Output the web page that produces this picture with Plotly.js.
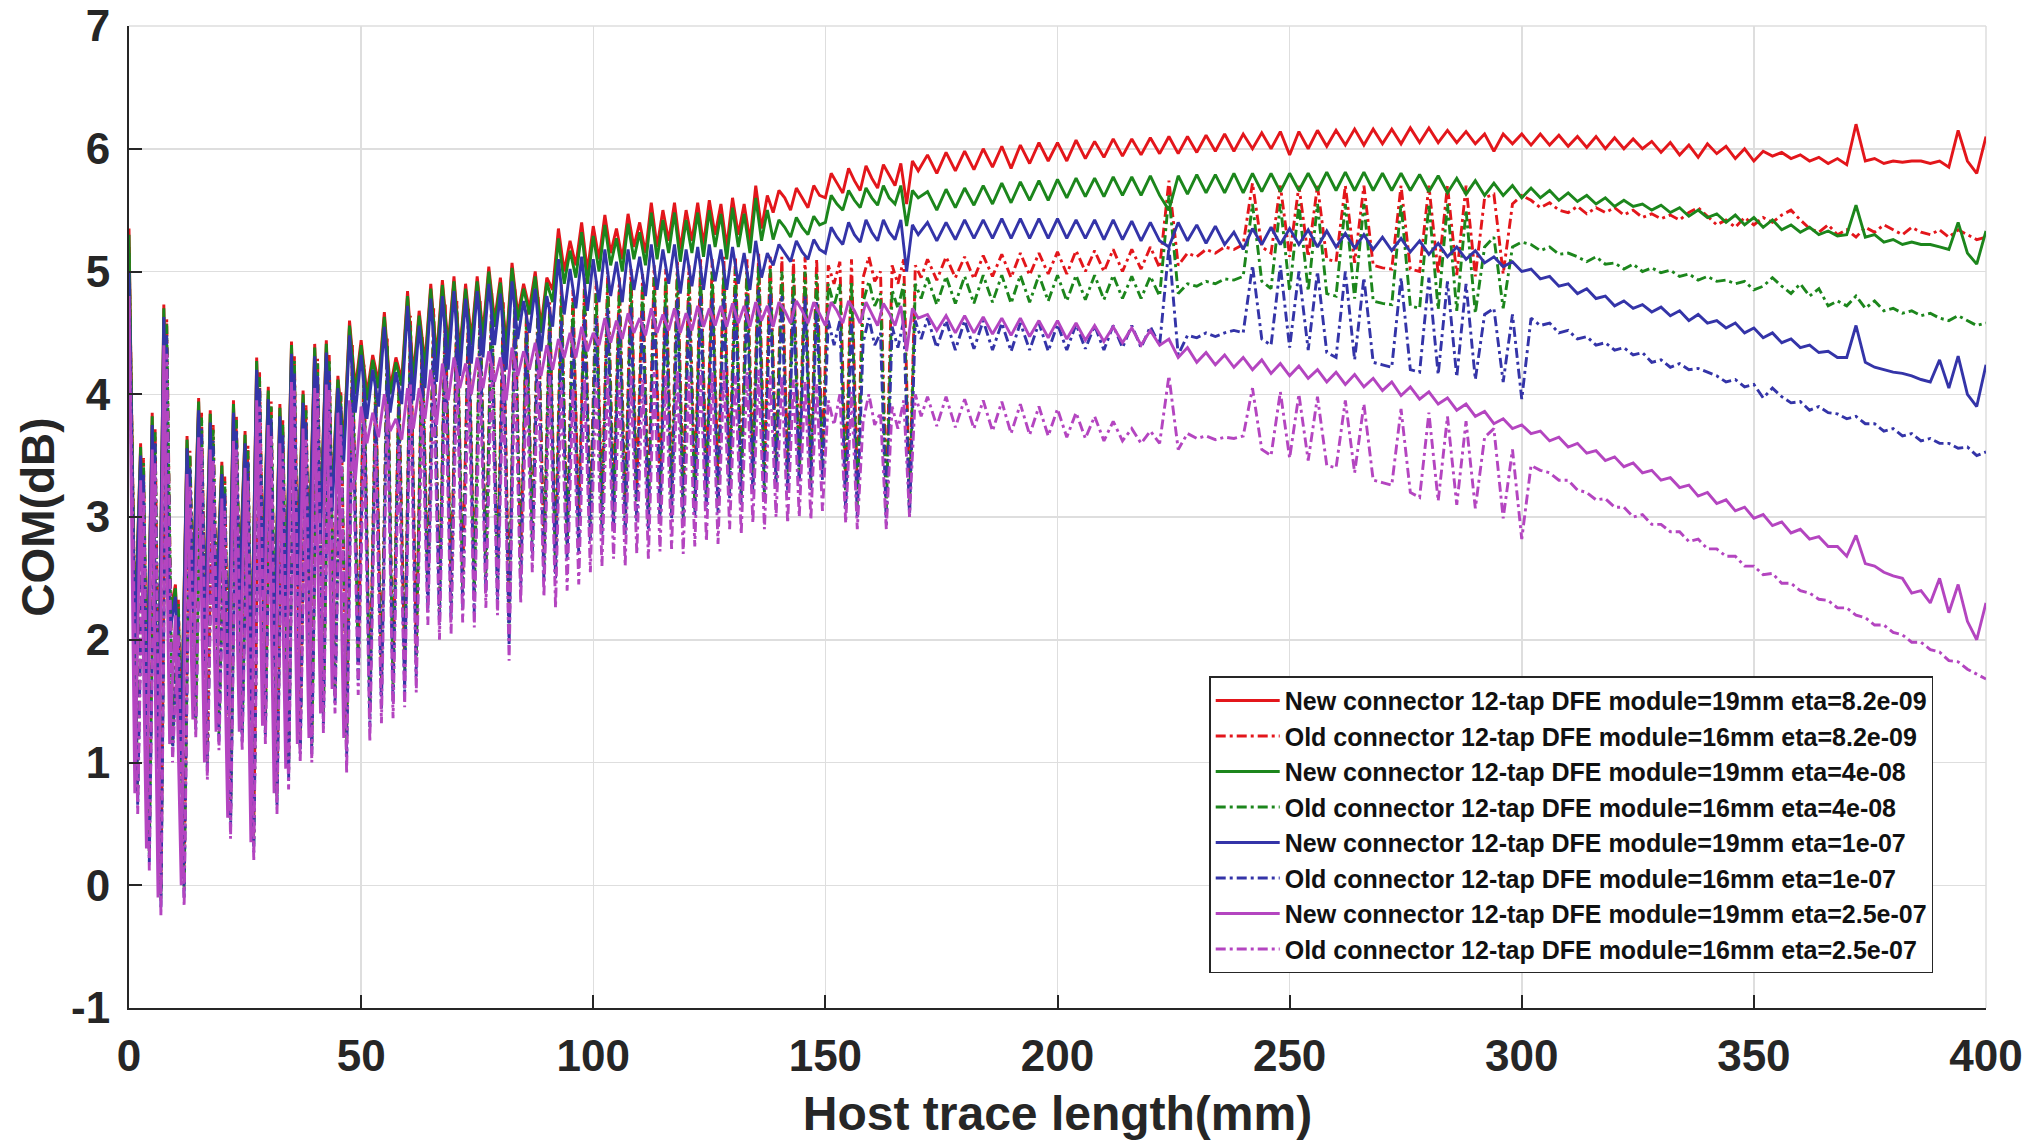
<!DOCTYPE html>
<html>
<head>
<meta charset="utf-8">
<script src="https://cdn.plot.ly/plotly-3.0.1.min.js"></script>
<style>html,body{margin:0;padding:0;background:#fff;}#chart{width:2037px;height:1142px;}</style>
</head>
<body>
<div id="chart"></div>
<script>
// ---- Data ----
// sample positions (mm) of the new-connector (19 mm module) curves
const xEarlyNew = [0,1.25,2.5,3.75,5,6.25,7.5,8.75,10,11.25,12.5,13.75,15,16.25,17.5,18.75,20,21.25,22.5,23.75,25,26.25,27.5,28.75,30,31.25,32.5,33.75,35,36.25,37.5,38.75,40,41.25,42.5,43.75,45,46.25,47.5,48.75,50,51.25,52.5,53.75,55,56.25,57.5,58.75,60,61.25,62.5,63.75,65,66.25,67.5,68.75,70,71.25,72.5,73.75,75,76.25,77.5,78.75,80,81.25,82.5,83.75,85,86.25,87.5,88.75,90,91.25,92.5,93.75,95,96.25,97.5,98.75,100,101.25,102.5,103.75,105,106.25,107.5,108.75,110,111.25,112.5,113.75,115,116.25,117.5,118.75,120,121.25,122.5,123.75,125,126.25,127.5,128.75,130,131.25,132.5,133.75,135,136.25,137.5,138.75,140,141.25,142.5,143.75,145,146.25,147.5,148.75,150,151.25,152.5,153.75,155,156.25,157.5,158.75,160,161.25,162.5,163.75,165,166.25,167.5,168.75,170];
// sample positions (mm) of the old-connector (16 mm module) curves: their ripple sits slightly offset
const xEarlyOld = [0,1.875,3.125,4.375,5.625,6.875,8.125,9.375,10.625,11.875,13.125,14.375,15.625,16.875,18.125,19.375,20.625,21.875,23.125,24.375,25.625,26.875,28.125,29.375,30.625,31.875,33.125,34.375,35.625,36.875,38.125,39.375,40.625,41.875,43.125,44.375,45.625,46.875,48.125,49.375,50.625,51.875,53.125,54.375,55.625,56.875,58.125,59.375,60.625,61.875,63.125,64.375,65.625,66.875,68.125,69.375,70.625,71.875,73.125,74.375,75.625,76.875,78.125,79.375,80.625,81.875,83.125,84.375,85.625,86.875,88.125,89.375,90.625,91.875,93.125,94.375,95.625,96.875,98.125,99.375,100.625,101.875,103.125,104.375,105.625,106.875,108.125,109.375,110.625,111.875,113.125,114.375,115.625,116.875,118.125,119.375,120.625,121.875,123.125,124.375,125.625,126.875,128.125,129.375,130.625,131.875,133.125,134.375,135.625,136.875,138.125,139.375,140.625,141.875,143.125,144.375,145.625,146.875,148.125,149.375,150.625,151.875,153.125,154.375,155.625,156.875,158.125,159.375,160.625,161.875,163.125,164.375,165.625,166.875,168.125,169.375,170.625];
const xLate = [172,174,176,178,180,182,184,186,188,190,192,194,196,198,200,202,204,206,208,210,212,214,216,218,220,222,224,226,228,230,232,234,236,238,240,242,244,246,248,250,252,254,256,258,260,262,264,266,268,270,272,274,276,278,280,282,284,286,288,290,292,294,296,298,300,302,304,306,308,310,312,314,316,318,320,322,324,326,328,330,332,334,336,338,340,342,344,346,348,350,352,354,356,358,360,362,364,366,368,370,372,374,376,378,380,382,384,386,388,390,392,394,396,398,400];
const lengthNew = xEarlyNew.concat(xLate);
const lengthOld = xEarlyOld.concat(xLate);

// New connector 19mm, eta=8.2e-09 (red solid)
const newEta82e09 = [
5.35,2.0,3.6,1.3,3.85,1.1,4.73,2.2,2.45,1.2,
3.66,2.4,3.97,2.0,3.87,2.3,3.45,1.6,3.95,2.4,
3.7,1.5,4.3,2.5,4.06,2.0,3.92,2.3,4.43,2.6,
4.03,2.7,4.41,3.0,4.44,3.2,4.15,3.6,4.6,4.05,
4.44,4.0,4.32,4.1,4.67,4.05,4.3,4.12,4.84,4.15,
4.68,4.25,4.9,4.3,4.93,4.4,4.96,4.35,4.9,4.45,
4.96,4.5,5.04,4.6,4.95,4.4,5.07,4.65,4.9,4.7,
5.0,4.55,4.95,4.85,5.35,5.0,5.25,5.05,5.4,5.0,
5.37,5.1,5.46,5.15,5.35,5.1,5.47,5.2,5.4,5.15,
5.56,5.2,5.5,5.25,5.56,5.18,5.5,5.25,5.56,5.22,
5.58,5.3,5.55,5.2,5.6,5.3,5.55,5.25,5.7,5.35,
5.62,5.48,5.66,5.6,5.5,5.68,5.6,5.52,5.7,5.62,
5.6,5.8,5.72,5.64,5.84,5.74,5.66,5.86,5.76,5.68,
5.87,5.78,5.7,5.88,5.55,5.9,5.82,
5.95,5.8,5.97,5.82,5.98,5.83,6.0,5.85,6.02,5.84,
6.03,5.88,6.05,5.9,6.05,5.9,6.07,5.92,6.06,5.93,
6.08,5.94,6.08,5.95,6.09,5.96,6.1,5.96,6.1,5.97,
6.11,5.98,6.12,5.98,6.12,6.0,6.13,6.0,6.14,5.95,
6.14,6.0,6.15,6.02,6.15,6.03,6.16,6.03,6.16,6.04,
6.16,6.04,6.17,6.05,6.17,6.05,6.15,6.05,6.14,6.04,
6.12,5.98,6.12,6.04,6.12,6.03,6.12,6.03,6.11,6.02,
6.1,6.01,6.1,6.0,6.09,6.0,6.08,6.0,6.06,5.97,
6.05,5.95,6.03,5.93,6.04,5.96,6.02,5.92,6.0,5.9,
5.98,5.94,5.97,5.92,5.95,5.9,5.93,5.88,5.92,5.87,
6.2,5.9,5.92,5.88,5.9,5.89,5.9,5.9,5.88,5.9,
5.85,6.15,5.9,5.8,6.1];

// Old connector 16mm, eta=8.2e-09 (red dashed)
const oldEta82e09 = [
5.2,0.8,3.48,0.34,3.73,-0.03,4.61,1.22,2.33,0.05,
3.54,1.42,3.85,1.08,3.75,1.32,3.33,0.6,3.83,1.32,
3.58,0.42,4.18,1.37,3.94,0.8,3.8,1.0,4.31,1.22,
3.91,1.22,4.29,1.46,4.32,1.62,4.03,1.26,4.4,1.9,
4.24,1.52,4.12,1.67,4.47,1.71,4.1,1.8,4.64,1.92,
4.48,2.47,4.7,2.35,4.73,2.4,4.76,2.49,4.7,2.45,
4.76,2.61,4.84,2.55,4.75,2.18,4.87,2.65,4.7,2.9,
4.8,2.7,4.75,2.71,4.9,2.85,4.85,2.95,4.95,3.05,
4.92,3.1,5.0,3.15,4.95,3.1,5.02,3.2,4.98,3.15,
5.05,3.22,5.02,3.25,5.08,3.2,5.05,3.26,5.1,3.3,
5.1,3.28,5.12,3.4,5.12,3.36,5.1,3.45,5.15,3.4,
5.12,3.45,5.12,3.4,5.1,3.45,5.12,3.43,5.1,3.5,
5.05,4.9,5.08,3.3,5.1,3.25,4.95,5.12,4.92,5.0,
3.2,5.05,4.9,5.1,3.15,5.05,4.95,
5.1,4.93,5.12,4.95,5.12,4.94,5.13,4.96,5.14,4.95,
5.15,4.97,5.15,4.98,5.16,4.98,5.17,5.0,5.17,5.0,
5.18,5.0,5.18,5.02,5.2,5.03,5.74,5.05,5.15,5.12,
5.18,5.15,5.2,5.18,5.22,5.72,5.2,5.15,5.7,5.12,
5.7,5.12,5.7,5.1,5.08,5.7,5.07,5.7,5.05,5.03,
5.02,5.7,5.02,5.0,5.7,4.98,5.7,4.97,5.7,4.96,
5.6,5.63,4.98,5.55,5.62,5.58,5.52,5.56,5.5,5.48,
5.53,5.47,5.52,5.48,5.52,5.46,5.5,5.44,5.47,5.43,
5.46,5.42,5.48,5.52,5.45,5.38,5.42,5.36,5.44,5.38,
5.44,5.4,5.46,5.5,5.42,5.35,5.32,5.38,5.3,5.34,
5.28,5.36,5.32,5.38,5.34,5.3,5.36,5.32,5.3,5.34,
5.28,5.34,5.3,5.26,5.28];

// New connector 19mm, eta=4e-08 (green solid)
const newEta4e08 = [
5.3,2.0,3.57,1.25,3.82,1.05,4.7,2.15,2.42,1.15,
3.63,2.35,3.94,1.95,3.84,2.25,3.42,1.55,3.92,2.35,
3.67,1.45,4.27,2.45,4.03,1.95,3.89,2.25,4.4,2.55,
4.0,2.65,4.38,2.95,4.41,3.15,4.12,3.55,4.56,4.0,
4.4,3.95,4.28,4.05,4.63,4.0,4.26,4.07,4.8,4.1,
4.64,4.2,4.86,4.25,4.89,4.35,4.92,4.3,4.86,4.4,
4.92,4.45,5.0,4.55,4.91,4.35,5.03,4.6,4.86,4.65,
4.96,4.5,4.91,4.75,5.27,4.9,5.17,4.95,5.32,4.9,
5.29,5.0,5.38,5.05,5.27,5.0,5.39,5.1,5.32,5.05,
5.48,5.1,5.42,5.15,5.48,5.08,5.42,5.15,5.48,5.12,
5.5,5.2,5.47,5.1,5.52,5.2,5.47,5.15,5.6,5.25,
5.5,5.26,5.42,5.36,5.28,5.44,5.36,5.3,5.45,5.38,
5.4,5.62,5.55,5.5,5.66,5.58,5.52,5.68,5.6,5.54,
5.7,5.6,5.55,5.7,5.37,5.66,5.6,
5.65,5.5,5.67,5.52,5.68,5.54,5.7,5.55,5.72,5.56,
5.73,5.58,5.74,5.58,5.75,5.6,5.76,5.61,5.76,5.61,
5.77,5.62,5.77,5.62,5.78,5.62,5.5,5.78,5.63,5.79,
5.64,5.79,5.64,5.8,5.64,5.8,5.65,5.8,5.65,5.8,
5.66,5.8,5.66,5.81,5.66,5.81,5.66,5.81,5.66,5.8,
5.66,5.8,5.66,5.79,5.65,5.78,5.64,5.76,5.63,5.74,
5.62,5.72,5.62,5.7,5.6,5.68,5.6,5.66,5.58,5.64,
5.57,5.62,5.55,5.6,5.53,5.58,5.53,5.55,5.5,5.54,
5.48,5.52,5.45,5.5,5.44,5.47,5.4,5.46,5.38,5.44,
5.36,5.42,5.34,5.38,5.32,5.36,5.3,5.33,5.29,5.3,
5.54,5.28,5.3,5.24,5.26,5.22,5.24,5.22,5.22,5.2,
5.18,5.4,5.15,5.06,5.33];

// Old connector 16mm, eta=4e-08 (green dashed)
const oldEta4e08 = [
5.15,0.72,3.44,0.26,3.69,-0.11,4.57,1.14,2.29,-0.03,
3.5,1.34,3.81,1.0,3.71,1.24,3.29,0.52,3.79,1.24,
3.54,0.34,4.14,1.29,3.9,0.72,3.76,0.92,4.27,1.14,
3.87,1.14,4.25,1.38,4.28,1.54,3.99,1.16,4.32,1.8,
4.16,1.42,4.04,1.57,4.39,1.61,4.02,1.7,4.56,1.82,
4.4,2.37,4.62,2.25,4.65,2.3,4.68,2.39,4.62,2.35,
4.68,2.51,4.76,2.45,4.67,2.08,4.79,2.55,4.62,2.8,
4.72,2.6,4.67,2.56,4.8,2.7,4.75,2.75,4.85,2.85,
4.82,2.9,4.9,2.96,4.85,2.9,4.92,3.0,4.88,2.96,
4.95,3.02,4.92,3.04,4.98,3.0,4.95,3.06,5.0,3.1,
5.0,3.08,5.02,3.2,5.02,3.16,5.0,3.25,5.05,3.2,
5.02,3.3,5.0,3.25,4.98,3.3,5.0,3.28,4.98,3.35,
4.9,4.72,4.9,3.15,4.92,3.1,4.75,4.92,4.72,4.82,
3.05,4.85,4.7,4.9,3.05,4.9,4.78,
4.95,4.73,4.96,4.74,4.96,4.74,4.97,4.75,4.97,4.74,
4.97,4.75,4.97,4.76,4.97,4.76,4.97,4.77,4.97,4.77,
4.97,4.78,4.96,4.78,4.96,4.8,5.62,4.82,4.9,4.88,
4.92,4.9,4.94,4.93,4.96,5.55,4.92,4.86,5.55,4.84,
5.55,4.84,5.55,4.82,4.8,5.55,4.78,5.55,4.76,4.74,
4.73,5.55,4.72,4.7,5.55,4.69,5.55,4.68,5.5,4.66,
5.2,5.28,4.7,5.2,5.24,5.22,5.17,5.2,5.14,5.15,
5.12,5.08,5.12,5.06,5.07,5.02,5.06,5.0,5.03,4.99,
5.01,4.96,4.98,4.93,4.96,4.92,4.93,4.9,4.92,4.85,
4.88,4.95,4.88,4.82,4.9,4.8,4.86,4.72,4.76,4.72,
4.8,4.7,4.76,4.68,4.7,4.66,4.68,4.64,4.66,4.62,
4.6,4.64,4.6,4.56,4.58];

// New connector 19mm, eta=1e-07 (blue solid)
const newEta1e07 = [
5.0,1.9,3.5,1.15,3.75,0.95,4.63,2.05,2.35,1.05,
3.56,2.25,3.87,1.85,3.77,2.15,3.35,1.45,3.85,2.25,
3.6,1.35,4.2,2.35,3.96,1.85,3.82,2.15,4.33,2.45,
3.93,2.55,4.31,2.85,4.34,3.05,4.05,3.45,4.48,3.85,
4.32,3.8,4.2,3.9,4.55,3.85,4.18,3.92,4.72,3.95,
4.56,4.05,4.78,4.1,4.8,4.2,4.84,4.15,4.78,4.25,
4.84,4.3,4.9,4.4,4.82,4.2,4.92,4.45,4.76,4.5,
4.86,4.35,4.8,4.55,5.1,4.65,5.02,4.7,5.12,4.68,
5.1,4.75,5.18,4.8,5.08,4.75,5.18,4.85,5.12,4.8,
5.22,4.85,5.18,4.9,5.22,4.82,5.18,4.88,5.2,4.85,
5.22,4.92,5.18,4.85,5.2,4.9,5.15,4.85,5.25,4.95,
5.15,5.05,5.22,5.15,5.08,5.25,5.16,5.1,5.26,5.18,
5.15,5.36,5.28,5.22,5.4,5.3,5.24,5.42,5.32,5.25,
5.42,5.32,5.26,5.42,5.0,5.38,5.3,
5.4,5.25,5.4,5.26,5.42,5.27,5.42,5.27,5.43,5.27,
5.43,5.27,5.43,5.27,5.43,5.27,5.42,5.27,5.42,5.26,
5.42,5.26,5.41,5.25,5.4,5.25,5.2,5.4,5.25,5.38,
5.23,5.37,5.22,5.32,5.18,5.35,5.22,5.36,5.22,5.35,
5.22,5.34,5.2,5.33,5.2,5.31,5.19,5.3,5.18,5.28,
5.17,5.27,5.16,5.25,5.14,5.23,5.12,5.2,5.1,5.17,
5.07,5.12,5.04,5.08,5.0,5.02,4.94,4.96,4.88,4.9,
4.82,4.86,4.78,4.8,4.72,4.76,4.7,4.73,4.67,4.71,
4.64,4.68,4.6,4.65,4.58,4.6,4.54,4.58,4.5,4.54,
4.46,4.5,4.42,4.45,4.38,4.4,4.34,4.35,4.3,4.3,
4.56,4.26,4.22,4.2,4.18,4.17,4.15,4.12,4.1,4.28,
4.05,4.31,4.0,3.9,4.24];

// Old connector 16mm, eta=1e-07 (blue dashed)
const oldEta1e07 = [
4.9,0.65,3.35,0.19,3.6,-0.18,4.48,1.07,2.2,-0.1,
3.41,1.27,3.72,0.93,3.62,1.17,3.2,0.45,3.7,1.17,
3.45,0.27,4.05,1.22,3.81,0.65,3.67,0.85,4.18,1.07,
3.78,1.07,4.16,1.31,4.19,1.47,3.9,1.03,4.2,1.67,
4.04,1.29,3.92,1.44,4.27,1.48,3.9,1.57,4.44,1.69,
4.28,2.24,4.5,2.12,4.53,2.17,4.56,2.26,4.5,2.22,
4.56,2.38,4.64,2.32,4.55,1.95,4.67,2.42,4.5,2.67,
4.6,2.47,4.55,2.5,4.6,2.65,4.55,2.7,4.65,2.8,
4.62,2.85,4.7,2.9,4.65,2.85,4.72,2.95,4.68,2.9,
4.75,2.97,4.72,2.99,4.78,2.95,4.75,3.0,4.8,3.05,
4.8,3.03,4.82,3.15,4.82,3.1,4.8,3.2,4.85,3.15,
4.82,3.25,4.8,3.2,4.78,3.25,4.8,3.22,4.75,3.3,
4.6,4.4,4.6,3.05,4.62,3.0,4.42,4.62,4.4,4.5,
2.95,4.55,4.38,4.6,3.0,4.6,4.45,
4.62,4.38,4.6,4.36,4.6,4.37,4.6,4.36,4.58,4.35,
4.58,4.36,4.58,4.35,4.57,4.36,4.57,4.37,4.56,4.36,
4.56,4.38,4.56,4.38,4.55,4.4,5.2,4.32,4.48,4.46,
4.5,4.47,4.5,4.52,4.5,5.05,4.45,4.4,5.05,4.38,
5.0,4.36,5.0,4.34,4.3,5.0,4.28,4.95,4.26,4.24,
4.22,4.95,4.2,4.18,4.95,4.16,4.92,4.14,4.9,4.12,
4.65,4.7,4.1,4.65,3.96,4.62,4.56,4.58,4.5,4.52,
4.45,4.47,4.4,4.42,4.36,4.38,4.32,4.34,4.26,4.28,
4.22,4.25,4.2,4.21,4.18,4.15,4.1,4.12,4.06,4.08,
3.97,4.05,3.98,3.93,3.94,3.87,3.9,3.85,3.84,3.8,
3.82,3.76,3.76,3.7,3.72,3.66,3.68,3.62,3.64,3.6,
3.6,3.56,3.57,3.5,3.53];

// New connector 19mm, eta=2.5e-07 (purple solid)
const newEta25e07 = [
4.8,0.75,3.3,0.3,3.55,-0.1,4.4,1.15,2.2,0.0,
3.35,1.35,3.65,1.0,3.55,1.25,3.15,0.55,3.62,1.25,
3.4,0.35,3.95,1.3,3.75,0.75,3.6,0.95,4.1,1.15,
3.72,1.2,4.05,1.4,4.08,1.6,3.85,1.2,3.95,3.3,
3.9,3.6,3.85,3.65,4.0,3.7,3.8,3.63,4.05,3.72,
4.05,3.8,4.2,3.75,4.25,3.95,4.3,4.05,4.25,4.0,
4.3,4.05,4.35,4.1,4.3,3.95,4.38,4.15,4.35,4.2,
4.42,4.15,4.4,4.2,4.45,4.3,4.5,4.3,4.55,4.35,
4.5,4.4,4.62,4.42,4.6,4.45,4.66,4.5,4.62,4.48,
4.7,4.5,4.65,4.52,4.7,4.5,4.66,4.52,4.72,4.55,
4.7,4.56,4.72,4.55,4.74,4.58,4.72,4.55,4.75,4.6,
4.72,4.55,4.75,4.68,4.58,4.76,4.68,4.58,4.75,4.66,
4.56,4.75,4.68,4.58,4.76,4.68,4.58,4.75,4.66,4.56,
4.74,4.66,4.56,4.72,4.35,4.7,4.62,
4.65,4.52,4.64,4.5,4.64,4.5,4.63,4.49,4.62,4.48,
4.62,4.47,4.6,4.46,4.6,4.45,4.58,4.44,4.56,4.43,
4.55,4.42,4.54,4.4,4.52,4.4,4.45,4.3,4.38,4.26,
4.34,4.24,4.32,4.22,4.3,4.2,4.28,4.17,4.25,4.15,
4.23,4.13,4.2,4.1,4.18,4.08,4.16,4.06,4.13,4.03,
4.1,3.99,4.06,3.96,4.02,3.92,3.97,3.87,3.92,3.82,
3.86,3.76,3.8,3.72,3.75,3.68,3.7,3.62,3.65,3.57,
3.6,3.52,3.54,3.46,3.49,3.41,3.44,3.36,3.38,3.3,
3.32,3.24,3.26,3.17,3.2,3.11,3.14,3.05,3.08,2.99,
3.02,2.93,2.96,2.87,2.9,2.82,2.84,2.76,2.76,2.68,
2.85,2.62,2.6,2.55,2.52,2.5,2.38,2.4,2.3,2.5,
2.22,2.45,2.15,2.0,2.3];

// Old connector 16mm, eta=2.5e-07 (purple dashed)
const oldEta25e07 = [
4.7,0.58,3.2,0.12,3.45,-0.25,4.33,1.0,2.05,-0.17,
3.26,1.2,3.57,0.86,3.47,1.1,3.05,0.38,3.55,1.1,
3.3,0.2,3.9,1.15,3.66,0.58,3.52,0.78,4.03,1.0,
3.63,1.0,4.01,1.24,4.04,1.4,3.75,0.91,3.85,1.55,
3.7,1.17,3.6,1.32,3.92,1.36,3.58,1.45,4.08,1.57,
3.92,2.12,4.12,2.0,4.15,2.05,4.18,2.14,4.12,2.1,
4.18,2.26,4.25,2.2,4.15,1.83,4.28,2.3,4.12,2.55,
4.2,2.35,4.15,2.26,4.1,2.4,4.05,2.45,4.12,2.55,
4.1,2.6,4.15,2.66,4.1,2.6,4.15,2.7,4.12,2.66,
4.18,2.72,4.15,2.74,4.2,2.7,4.15,2.76,4.2,2.8,
4.18,2.78,4.2,2.9,4.15,2.86,4.18,2.95,4.2,2.9,
4.15,3.0,4.15,2.95,4.12,3.0,4.1,2.98,4.08,3.05,
3.95,3.75,4.0,2.95,4.02,2.9,3.78,4.0,3.75,3.85,
2.9,3.9,3.72,3.95,3.0,4.0,3.82,
3.98,3.74,3.98,3.73,3.96,3.72,3.95,3.7,3.94,3.68,
3.92,3.67,3.9,3.66,3.88,3.65,3.85,3.64,3.82,3.62,
3.78,3.62,3.72,3.6,3.7,3.6,4.15,3.55,3.68,3.64,
3.66,3.63,3.65,3.64,3.66,4.05,3.55,3.5,4.02,3.48,
4.0,3.46,3.98,3.42,3.4,3.95,3.36,3.92,3.3,3.28,
3.26,3.88,3.2,3.16,3.85,3.13,3.82,3.1,3.78,3.07,
3.65,3.72,2.99,3.55,2.82,3.42,3.38,3.36,3.3,3.3,
3.22,3.2,3.14,3.15,3.08,3.08,3.0,3.02,2.94,2.94,
2.88,2.88,2.8,2.82,2.74,2.74,2.68,2.68,2.6,2.6,
2.53,2.54,2.46,2.46,2.4,2.38,2.33,2.32,2.26,2.26,
2.2,2.18,2.12,2.12,2.06,2.04,1.98,1.98,1.92,1.9,
1.83,1.82,1.76,1.72,1.68];

const seriesNames = [
  'New connector 12-tap DFE module=19mm eta=8.2e-09',
  'Old connector 12-tap DFE module=16mm eta=8.2e-09',
  'New connector 12-tap DFE module=19mm eta=4e-08',
  'Old connector 12-tap DFE module=16mm eta=4e-08',
  'New connector 12-tap DFE module=19mm eta=1e-07',
  'Old connector 12-tap DFE module=16mm eta=1e-07',
  'New connector 12-tap DFE module=19mm eta=2.5e-07',
  'Old connector 12-tap DFE module=16mm eta=2.5e-07'
];
const seriesValues = [newEta82e09, oldEta82e09, newEta4e08, oldEta4e08, newEta1e07, oldEta1e07, newEta25e07, oldEta25e07];
const seriesX = [lengthNew, lengthOld, lengthNew, lengthOld, lengthNew, lengthOld, lengthNew, lengthOld];

const xTickVals = [0,50,100,150,200,250,300,350,400];
const xTickText = ['0','50','100','150','200','250','300','350','400'];
const yTickVals = [-1,0,1,2,3,4,5,6,7];
const yTickText = ['-1','0','1','2','3','4','5','6','7'];

// ---- Styles ----
const colors = ['#e3161b','#e3161b','#1c861c','#1c861c','#3434a8','#3434a8','#b445c0','#b445c0'];
const DASHDOT = '10px,4px,3px,4px';
const dashes = ['solid',DASHDOT,'solid',DASHDOT,'solid',DASHDOT,'solid',DASHDOT];

seriesValues.forEach((s, i) => {
  if (s.length !== seriesX[i].length) {
    throw new Error('Series ' + i + ' has ' + s.length + ' values, expected ' + seriesX[i].length);
  }
});

const traces = seriesValues.map((ys, i) => ({
  type: 'scatter',
  mode: 'lines',
  x: seriesX[i],
  y: ys,
  name: seriesNames[i],
  line: {color: colors[i], width: 2.9, dash: dashes[i]},
  hoverinfo: 'skip'
}));

const FONT = 'Liberation Sans, Arial, Helvetica, sans-serif';
const AX = '#262626';
const GRID = '#dedede';

const layout = {
  width: 2037, height: 1142,
  margin: {l: 129, r: 51, t: 26, b: 134},
  paper_bgcolor: '#ffffff', plot_bgcolor: '#ffffff',
  font: {family: FONT, color: AX},
  showlegend: true,
  xaxis: {
    range: [0, 400], autorange: false,
    tickmode: 'array', tickvals: xTickVals, ticktext: xTickText,
    ticks: 'inside', ticklen: 13, tickwidth: 2, tickcolor: AX,
    showline: true, linecolor: AX, linewidth: 2,
    showgrid: true, gridcolor: GRID, gridwidth: 1.5,
    zeroline: false, automargin: false, ticklabeloverflow: 'allow',
    tickfont: {family: FONT, size: 44, weight: 'bold', color: AX},
    ticklabelstandoff: 8,
    title: {text: 'Host trace length(mm)', font: {family: FONT, size: 48, weight: 'bold', color: AX}, standoff: 18}
  },
  yaxis: {
    range: [-1, 7], autorange: false,
    tickmode: 'array', tickvals: yTickVals, ticktext: yTickText,
    ticks: 'inside', ticklen: 13, tickwidth: 2, tickcolor: AX,
    showline: true, linecolor: AX, linewidth: 2,
    showgrid: true, gridcolor: GRID, gridwidth: 1.5,
    zeroline: false, automargin: false, ticklabeloverflow: 'allow',
    tickfont: {family: FONT, size: 44, weight: 'bold', color: AX},
    ticklabelstandoff: 8,
    title: {text: 'COM(dB)', font: {family: FONT, size: 46, weight: 'bold', color: AX}, standoff: 2}
  },
  shapes: [
    {type: 'line', xref: 'paper', yref: 'paper', x0: 0, x1: 1, y0: 1, y1: 1, line: {color: GRID, width: 1.5}, layer: 'below'},
    {type: 'line', xref: 'paper', yref: 'paper', x0: 1, x1: 1, y0: 0, y1: 1, line: {color: GRID, width: 1.5}, layer: 'below'}
  ],
  legend: {
    x: 0.5817, y: 0.1866, xanchor: 'left', yanchor: 'middle',
    bgcolor: '#ffffff', bordercolor: AX, borderwidth: 1.5,
    font: {family: FONT, size: 25, weight: 'bold', color: '#111111'},
    tracegroupgap: 0, itemwidth: 64
  }
};

Plotly.newPlot('chart', traces, layout, {staticPlot: true, displayModeBar: false});
</script>
</body>
</html>
